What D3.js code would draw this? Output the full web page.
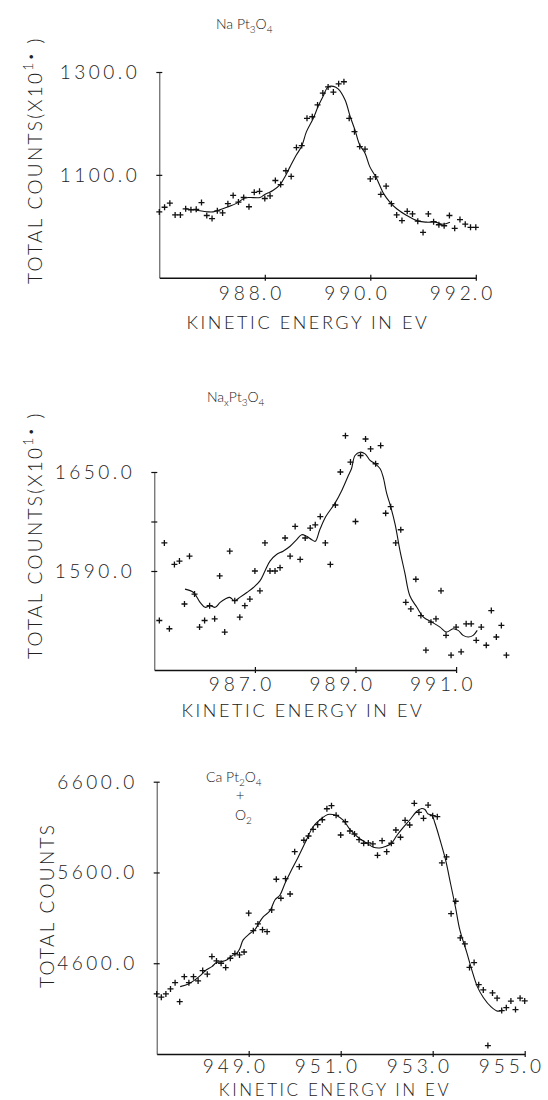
<!DOCTYPE html>
<html>
<head>
<meta charset="utf-8">
<script src="https://cdn.jsdelivr.net/npm/d3@7"></script>
<style>
  html, body { margin: 0; padding: 0; background: #fff; }
  svg { display: block; }
  text { font-family: Lato, "DejaVu Sans", sans-serif; font-weight: 300; fill: #222; }
</style>
</head>
<body>
<script>
// ---------- Panel 1 : Na Pt3O4 ----------
const p1Energy = [986.0,986.1,986.2,986.3,986.4,986.5,986.6,986.7,986.8,986.9,
  987.0,987.1,987.2,987.3,987.4,987.5,987.6,987.7,987.8,987.9,
  988.0,988.1,988.2,988.3,988.4,988.5,988.6,988.7,988.8,988.9,
  989.0,989.1,989.2,989.3,989.4,989.5,989.6,989.7,989.8,989.9,
  990.0,990.1,990.2,990.3,990.4,990.5,990.6,990.7,990.8,990.9,
  991.0,991.1,991.2,991.3,991.4,991.5,991.6,991.7,991.8,991.9,992.0];
const p1Counts = [1028,1037,1045,1022,1022,1034,1032,1033,1046,1021,
  1015,1030,1026,1044,1060,1047,1056,1038,1066,1068,
  1054,1059,1089,1081,1108,1097,1153,1157,1210,1213,
  1236,1259,1271,1261,1277,1281,1210,1184,1155,1150,
  1092,1096,1062,1078,1044,1022,1011,1029,1024,1010,
  988,1024,1009,1003,1001,1021,996,1013,1004,998,998];
const p1FitEnergy = [986.49,986.64,986.93,987.02,987.12,987.28,987.47,987.62,987.72,987.91,
  988.0,988.07,988.16,988.29,988.38,988.48,988.6,988.7,988.79,988.92,
  989.01,989.11,989.2,989.3,989.39,989.52,989.62,989.71,989.8,989.9,
  989.99,990.12,990.25,990.37,990.5,990.69,990.91,991.07,991.23,991.38,991.51];
const p1FitCounts = [1034,1032,1028,1028,1031,1037,1045,1055,1056,1056,
  1062,1065,1070,1081,1096,1116,1139,1156,1184,1210,
  1233,1254,1271,1272,1267,1246,1213,1187,1158,1142,
  1116,1093,1064,1047,1034,1021,1010,1008,1008,1004,1008];
const p1YTicks = [1100, 1300];
const p1XTicks = [988, 990, 992];

// ---------- Panel 2 : Nax Pt3O4 ----------
const p2Energy = [985.1,985.2,985.3,985.4,985.5,985.6,985.7,985.8,985.9,
  986.0,986.1,986.2,986.3,986.4,986.5,986.6,986.7,986.8,986.9,
  987.0,987.1,987.2,987.3,987.4,987.5,987.6,987.7,987.8,987.9,
  988.0,988.1,988.2,988.3,988.4,988.5,988.6,988.7,988.8,988.9,
  989.0,989.1,989.2,989.3,989.4,989.5,989.6,989.7,989.8,989.9,
  990.0,990.1,990.2,990.3,990.4,990.5,990.6,990.7,990.8,990.9,
  991.0,991.1,991.2,991.3,991.4,991.5,991.6,991.7,991.8,991.9,992.0];
const p2Counts = [1560,1607,1555,1594,1596,1570,1599,1576,1556,
  1560,1569,1561,1587,1553,1602,1572,1562,1569,1573,
  1590,1578,1607,1590,1590,1592,1610,1599,1617,1597,
  1610,1616,1618,1623,1607,1594,1630,1650,1672,1656,
  1620,1660,1670,1664,1655,1666,1625,1629,1607,1615,
  1571,1567,1585,1563,1542,1559,1561,1578,1551,1539,
  1556,1541,1558,1558,1548,1556,1545,1566,1550,1557,1539];
const p2FitEnergy = [985.61,985.78,985.91,986.01,986.11,986.21,986.31,986.41,986.5,986.6,
  986.7,986.84,986.97,987.1,987.2,987.3,987.43,987.56,987.7,987.83,
  987.93,988.03,988.13,988.2,988.29,988.41,988.59,988.73,988.86,988.92,
  988.99,989.09,989.19,989.29,989.39,989.49,989.55,989.62,989.69,989.79,
  989.88,989.98,990.08,990.22,990.35,990.52,990.68,990.81,990.94,991.04,
  991.14,991.24,991.34,991.42];
const p2FitCounts = [1579,1577,1571,1568,1569,1568,1571,1573,1574,1572,
  1574,1577,1580,1584,1590,1596,1600,1602,1605,1609,
  1612,1611,1609,1608,1615,1623,1631,1639,1648,1652,
  1660,1662,1661,1657,1655,1652,1647,1637,1630,1618,
  1603,1589,1575,1568,1562,1559,1556,1553,1555,1554,
  1551,1550,1551,1554];
const p2YTicks = [1590, 1620, 1650];
const p2YLabels = [1590, 1650];
const p2XTicks = [987, 989, 991];

// ---------- Panel 3 : Ca Pt2O4 + O2 ----------
const p3Energy = [947.0,947.1,947.2,947.3,947.4,947.5,947.6,947.7,947.8,947.9,
  948.0,948.1,948.2,948.3,948.4,948.5,948.6,948.7,948.8,948.9,
  949.0,949.1,949.2,949.3,949.4,949.5,949.6,949.7,949.8,949.9,
  950.0,950.1,950.2,950.3,950.4,950.5,950.6,950.7,950.8,950.9,
  951.0,951.1,951.2,951.3,951.4,951.5,951.6,951.7,951.8,951.9,
  952.0,952.1,952.2,952.3,952.4,952.5,952.6,952.7,952.8,952.9,
  953.0,953.1,953.2,953.3,953.4,953.5,953.6,953.7,953.8,953.9,
  954.0,954.1,954.2,954.3,954.4,954.5,954.6,954.7,954.8,954.9,955.0];
const p3Counts = [4262,4226,4262,4317,4386,4177,4452,4386,4452,4405,
  4519,4479,4673,4625,4600,4552,4655,4706,4691,4724,
  5151,4959,5033,4970,4948,5187,5525,5316,5532,5363,
  5829,5664,5955,6002,6074,6126,6181,6302,6336,6230,
  6013,6159,6057,6024,5961,5922,5925,5914,5789,5950,
  5829,5922,6068,5988,6175,6123,6362,6263,6197,6343,
  6226,6215,5705,5771,5146,5283,4879,4813,4554,4607,
  4364,4306,3693,4273,4215,4078,4110,4183,4089,4215,4185];
const p3FitEnergy = [947.51,947.69,947.83,947.94,948.05,948.2,948.3,948.41,948.52,948.63,
  948.74,948.81,948.88,949.03,949.14,949.21,949.32,949.46,949.57,949.68,
  949.79,949.93,950.08,950.25,950.4,950.59,950.72,950.83,950.91,951.06,
  951.2,951.4,951.58,951.71,951.85,951.97,952.1,952.22,952.36,952.5,
  952.65,952.76,952.83,952.9,952.98,953.05,953.16,953.28,953.39,953.5,
  953.59,953.74,953.85,953.97,954.1,954.27,954.41,954.52];
const p3FitCounts = [4342,4372,4416,4460,4515,4563,4607,4618,4636,4680,
  4710,4765,4857,4930,4974,5033,5113,5176,5297,5352,
  5481,5628,5774,5952,6104,6197,6239,6239,6228,6173,
  6074,5977,5918,5878,5870,5886,5919,6007,6096,6178,
  6272,6305,6294,6244,6233,6142,5958,5738,5473,5204,
  4967,4719,4526,4342,4223,4119,4072,4086];
const p3YTicks = [4600, 5600, 6600];
const p3XTicks = [949, 951, 953, 955];

const xTitle = "KINETIC ENERGY IN EV";

// ---------- drawing ----------
const svg = d3.select("body").append("svg").attr("width", 548).attr("height", 1100);

const fmt = d3.format(".1f");
const crossPath = "M-3,0H3M0,-3V3";

function drawPanel(cfg) {
  const g = svg.append("g");
  const x = d3.scaleLinear().domain(cfg.xDomain).range(cfg.xRange);
  const y = d3.scaleLinear().domain(cfg.yDomain).range(cfg.yRange);

  // left axis
  const ay = g.append("g").attr("transform", `translate(${cfg.xRange[0]},0)`)
    .call(d3.axisLeft(y).tickValues(cfg.yTicks).tickSizeOuter(0).tickSizeInner(6).tickFormat(""));
  ay.select(".domain").attr("stroke", "#444").attr("stroke-width", 1);
  ay.selectAll(".tick line").attr("x1", 3).attr("x2", -3).attr("stroke", "#111").attr("stroke-width", 1.2);

  // bottom axis
  const ax = g.append("g").attr("transform", `translate(0,${cfg.yRange[0]})`)
    .call(d3.axisBottom(x).tickValues(cfg.xTicks).tickSizeOuter(0).tickSizeInner(6).tickFormat(""));
  ax.select(".domain").attr("stroke", "#111").attr("stroke-width", 1.5);
  ax.selectAll(".tick line").attr("y1", -3).attr("y2", 3).attr("stroke", "#111").attr("stroke-width", 1.2);

  // y tick labels
  g.selectAll(".ylab").data(cfg.yLabels).enter().append("text")
    .attr("x", cfg.xRange[0] - 19).attr("y", d => y(d))
    .attr("dy", "0.36em").attr("text-anchor", "end")
    .attr("font-size", 19).attr("letter-spacing", 3.5)
    .text(d => fmt(d));

  // x tick labels: decimal point sits on the tick
  const xl = g.selectAll(".xlab").data(cfg.xTicks).enter();
  xl.append("text")
    .attr("x", d => x(d) - 1).attr("y", cfg.yRange[0] + cfg.xLabOff)
    .attr("text-anchor", "end").attr("font-size", 19).attr("letter-spacing", 4)
    .text(d => String(Math.floor(d)));
  xl.append("text")
    .attr("x", d => x(d) - 3).attr("y", cfg.yRange[0] + cfg.xLabOff)
    .attr("text-anchor", "start").attr("font-size", 19).attr("letter-spacing", 4)
    .text(d => fmt(d).slice(-2));

  // x title
  g.append("text")
    .attr("x", cfg.xTitleX).attr("y", cfg.yRange[0] + cfg.xTitleOff)
    .attr("text-anchor", "middle").attr("font-size", cfg.xTitleSize).attr("letter-spacing", 2.6)
    .text(xTitle);

  // fitted curve
  const fit = cfg.fitE.map((e, i) => [e, cfg.fitC[i]]);
  g.append("path").datum(fit)
    .attr("fill", "none").attr("stroke", "#111").attr("stroke-width", 1.1)
    .attr("d", d3.line().x(d => x(d[0])).y(d => y(d[1])).curve(d3.curveCatmullRom));

  // data crosses
  const pts = cfg.E.map((e, i) => [e, cfg.C[i]]);
  g.selectAll(".pt").data(pts).enter().append("path")
    .attr("d", crossPath)
    .attr("transform", d => `translate(${x(d[0])},${y(d[1])})`)
    .attr("stroke", "#111").attr("stroke-width", 1.3).attr("fill", "none");

  return g;
}

function yTitle(g, tx, ty, withExp) {
  const t = g.append("text")
    .attr("transform", `translate(${tx},${ty}) rotate(-90)`)
    .attr("text-anchor", "start").attr("font-size", 19).attr("letter-spacing", 2.3);
  if (withExp) {
    t.append("tspan").text("TOTAL COUNTS(X10");
    t.append("tspan").attr("dy", -9).attr("font-size", 14).text("1");
    t.append("tspan").attr("dy", 2).attr("font-size", 12).text("•");
    t.append("tspan").attr("dy", 7).text(" )");
  } else {
    t.text("TOTAL COUNTS");
  }
}

function subTitle(g, tx, ty, parts) {
  const t = g.append("text").attr("x", tx).attr("y", ty).attr("font-size", 14);
  let down = false;
  parts.forEach(p => {
    const sub = p.sub === true;
    const dy = sub && !down ? 4 : (!sub && down ? -4 : 0);
    t.append("tspan").attr("dy", dy).attr("font-size", sub ? 10 : 14).text(p.t);
    down = sub;
  });
  return t;
}

// Panel 1
const g1 = drawPanel({
  E: p1Energy, C: p1Counts, fitE: p1FitEnergy, fitC: p1FitCounts,
  xDomain: [986, 992], xRange: [159.3, 475.8],
  yDomain: [900, 1300], yRange: [277.7, 72],
  yTicks: p1YTicks, yLabels: p1YTicks, xTicks: p1XTicks,
  xLabOff: 22, xTitleX: 308, xTitleOff: 51, xTitleSize: 18
});
yTitle(g1, 42, 284, true);
subTitle(g1, 216, 29, [{t:"Na Pt"},{t:"3",sub:true},{t:"O"},{t:"4",sub:true}]);

// Panel 2
const g2 = drawPanel({
  E: p2Energy, C: p2Counts, fitE: p2FitEnergy, fitC: p2FitCounts,
  xDomain: [985, 991], xRange: [154.3, 456.1],
  yDomain: [1530, 1650], yRange: [670, 472],
  yTicks: p2YTicks, yLabels: p2YLabels, xTicks: p2XTicks,
  xLabOff: 21, xTitleX: 303, xTitleOff: 47, xTitleSize: 18
});
yTitle(g2, 42, 659, true);
subTitle(g2, 207, 402, [{t:"Na"},{t:"x",sub:true},{t:"Pt"},{t:"3",sub:true},{t:"O"},{t:"4",sub:true}]);

// Panel 3
const g3 = drawPanel({
  E: p3Energy, C: p3Counts, fitE: p3FitEnergy, fitC: p3FitCounts,
  xDomain: [947, 955], xRange: [156.7, 524.7],
  yDomain: [3600, 6600], yRange: [1054, 781.7],
  yTicks: p3YTicks, yLabels: p3YTicks, xTicks: p3XTicks,
  xLabOff: 19, xTitleX: 335, xTitleOff: 42, xTitleSize: 17
});
yTitle(g3, 54, 988, false);
subTitle(g3, 206, 782, [{t:"Ca Pt"},{t:"2",sub:true},{t:"O"},{t:"4",sub:true}]);
g3.append("text").attr("x", 240).attr("y", 801).attr("text-anchor", "middle").attr("font-size", 15).text("+");
subTitle(g3, 235, 820, [{t:"O"},{t:"2",sub:true}]);
</script>
</body>
</html>
